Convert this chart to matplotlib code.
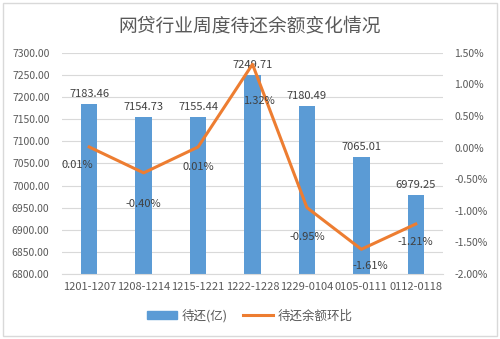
import matplotlib
matplotlib.use("Agg")
import matplotlib.pyplot as plt
from matplotlib.patches import Rectangle
from matplotlib.lines import Line2D
from matplotlib.ticker import FuncFormatter

plt.rcParams["font.family"] = ["Noto Sans CJK SC", "DejaVu Sans"]

# weekly outstanding loan balance (亿) and week-on-week change (%)
weeks = ["1201-1207", "1208-1214", "1215-1221", "1222-1228",
         "1229-0104", "0105-0111", "0112-0118"]
balance = [7183.46, 7154.73, 7155.44, 7249.71, 7180.49, 7065.01, 6979.25]
change_pct = [0.01, -0.40, 0.01, 1.32, -0.95, -1.61, -1.21]

BLUE = "#5B9BD5"
ORANGE = "#ED7D31"
GRID = "#D9D9D9"
TXT = "#595959"

fig = plt.figure(figsize=(5.0, 3.39), dpi=100)
ax = fig.add_axes([0.124, 0.192, 0.762, 0.652])
ax2 = ax.twinx()

x = list(range(len(weeks)))
bars = ax.bar(x, [b - 6800 for b in balance], bottom=6800, width=0.3,
              color=BLUE, zorder=2)
ax.set_ylim(6800, 7300)
ax.set_xlim(-0.5, len(weeks) - 0.5)
ax.set_yticks([6800 + 50 * i for i in range(11)])
ax.yaxis.set_major_formatter(FuncFormatter(lambda v, p: f"{v:.2f}"))
ax.grid(axis="y", color=GRID, linewidth=0.8, zorder=0)
ax.set_axisbelow(True)
ax.set_xticks(x)
ax.set_xticklabels(weeks, fontsize=8)
ax.tick_params(axis="both", length=0, labelsize=7.5, colors=TXT)
ax.tick_params(axis="x", labelsize=8, pad=6)
ax.tick_params(axis="y", pad=9)
for s in ["top", "left", "right"]:
    ax.spines[s].set_visible(False)
ax.spines["bottom"].set_color(GRID)

# bar value labels
for xi, b in zip(x, balance):
    ax.annotate(f"{b:.2f}", (xi, b), xytext=(0, 5), textcoords="offset pixels",
                ha="center", va="bottom", fontsize=8, color="#404040")

ax2.plot(x, [c / 100 for c in change_pct], color=ORANGE, linewidth=2.2,
         solid_joinstyle="round", zorder=3)
ax2.set_ylim(-0.02, 0.015)
ax2.set_yticks([-0.02 + 0.005 * i for i in range(8)])
ax2.yaxis.set_major_formatter(FuncFormatter(lambda v, p: f"{v * 100:.2f}%"))
ax2.tick_params(axis="y", length=0, labelsize=7.5, colors=TXT, pad=8)
for s in ax2.spines.values():
    s.set_visible(False)

# line value labels, nudged off the line
offsets = [(-12, -18), (0, -31), (0, -20), (6, -37), (0, -29), (9, -17), (0, -18)]
for xi, c, off in zip(x, change_pct, offsets):
    ax2.annotate(f"{c:.2f}%", (xi, c / 100), xytext=off, textcoords="offset pixels",
                 ha="center", va="center", fontsize=8, color="#404040", zorder=4)

fig.text(0.5, 0.925, "网贷行业周度待还余额变化情况", ha="center", va="center",
         fontsize=13.5, color=TXT)

handles = [Rectangle((0, 0), 1, 1, color=BLUE),
           Line2D([0], [0], color=ORANGE, linewidth=2.2)]
fig.legend(handles, ["待还(亿)", "待还余额环比"], loc="center",
           bbox_to_anchor=(0.5, 0.068), ncol=2, frameon=False, fontsize=9,
           handlelength=2.4, handleheight=0.6, columnspacing=1.2,
           handletextpad=0.4, labelcolor=TXT)

# outer chart border
fig.patches.append(Rectangle((0.006, 0.009), 0.988, 0.982, transform=fig.transFigure,
                             fill=False, edgecolor=GRID, linewidth=1))

fig.savefig("out.png", dpi=100)
